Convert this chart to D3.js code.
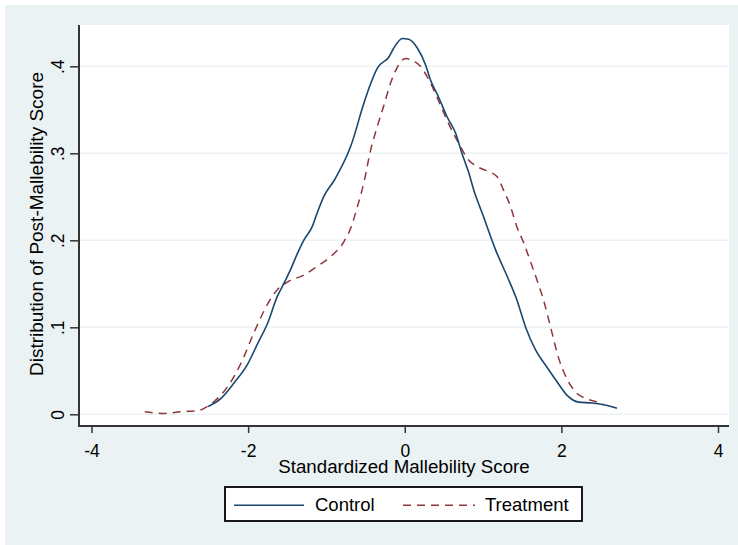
<!DOCTYPE html>
<html>
<head>
<meta charset="utf-8">
<script src="https://cdn.jsdelivr.net/npm/d3@7"></script>
<style>
  body { margin: 0; background: #fff; }
  text { font-family: "Liberation Sans", Arial, sans-serif; fill: #000; }
</style>
</head>
<body>
<div id="chart"></div>
<script>
// kernel density estimates (score, density)
let controlX = [-2.51, -2.35, -2.18, -2.01, -1.88, -1.75, -1.63, -1.54, -1.46, -1.37, -1.29, -1.18, -1.12,
    -1.03, -0.90, -0.69, -0.52, -0.44, -0.35, -0.20, -0.14, -0.03, 0.05, 0.16, 0.26, 0.33, 0.43, 0.54,
    0.65, 0.73, 0.82, 0.88, 0.99, 1.16, 1.33, 1.43, 1.54, 1.67, 1.81, 1.94, 2.07, 2.22, 2.39, 2.54, 2.71];
let controlY = [0.009, 0.018, 0.036, 0.057, 0.081, 0.105, 0.135, 0.151, 0.166, 0.185, 0.200, 0.216, 0.231,
    0.251, 0.269, 0.308, 0.358, 0.379, 0.398, 0.411, 0.421, 0.432, 0.431, 0.421, 0.403, 0.384, 0.365, 0.342,
    0.323, 0.300, 0.277, 0.258, 0.231, 0.189, 0.154, 0.132, 0.101, 0.074, 0.055, 0.038, 0.022, 0.014, 0.013, 0.011, 0.007];

let treatX = [-3.32, -3.07, -2.86, -2.65, -2.54, -2.43, -2.26, -2.09, -1.92, -1.75, -1.63, -1.50, -1.29, -1.12,
    -0.95, -0.78, -0.69, -0.61, -0.52, -0.44, -0.35, -0.27, -0.18, -0.10, 0.01, 0.09, 0.20, 0.31, 0.41, 0.52,
    0.62, 0.71, 0.80, 0.92, 1.07, 1.18, 1.26, 1.35, 1.43, 1.52, 1.60, 1.69, 1.77, 1.86, 1.96, 2.07, 2.20, 2.32, 2.49, 2.54];
let treatY = [0.003, 0.001, 0.003, 0.004, 0.008, 0.015, 0.032, 0.059, 0.095, 0.127, 0.143, 0.152, 0.160, 0.170,
    0.181, 0.198, 0.214, 0.237, 0.267, 0.302, 0.331, 0.354, 0.381, 0.398, 0.409, 0.407, 0.400, 0.384, 0.365, 0.342,
    0.323, 0.308, 0.294, 0.285, 0.279, 0.273, 0.258, 0.239, 0.216, 0.197, 0.177, 0.154, 0.132, 0.101, 0.066, 0.041, 0.024, 0.018, 0.013, 0.011];

let xTicks = [-4, -2, 0, 2, 4];
let yTicks = [0, 0.1, 0.2, 0.3, 0.4];
let seriesNames = ["Control", "Treatment"];

let W = 738, H = 545;
let plot = {left: 79, right: 729, top: 25, bottom: 426};

let svg = d3.select("#chart")
    .append("svg")
    .attr("width", W)
    .attr("height", H);

// outer background and plot region
svg.append("rect")
    .attr("x", 5).attr("y", 5)
    .attr("width", W - 5).attr("height", H - 5)
    .attr("fill", "#eaf2f3");

svg.append("rect")
    .attr("x", plot.left).attr("y", plot.top)
    .attr("width", plot.right - plot.left)
    .attr("height", plot.bottom - plot.top)
    .attr("fill", "#fff");

let xScale = d3.scaleLinear()
    .domain([-4, 4])
    .range([91.5, 718]);

let yScale = d3.scaleLinear()
    .domain([0, 0.4])
    .range([414.3, 66.3]);

// gridlines
svg.append("g")
    .selectAll("line")
    .data(yTicks)
    .join("line")
    .attr("x1", plot.left)
    .attr("x2", plot.right)
    .attr("y1", d => yScale(d))
    .attr("y2", d => yScale(d))
    .attr("stroke", "#eaf2f3")
    .attr("stroke-width", 1.5);

// curves
let line = d3.line()
    .x(d => xScale(d[0]))
    .y(d => yScale(d[1]))
    .curve(d3.curveMonotoneX);

let controlData = controlX.map((v, i) => [v, controlY[i]]);
let treatData = treatX.map((v, i) => [v, treatY[i]]);

svg.append("path")
    .datum(treatData)
    .attr("d", line)
    .attr("fill", "none")
    .attr("stroke", "#90353b")
    .attr("stroke-width", 1.5)
    .attr("stroke-dasharray", "8,6");

svg.append("path")
    .datum(controlData)
    .attr("d", line)
    .attr("fill", "none")
    .attr("stroke", "#1a476f")
    .attr("stroke-width", 1.6);

// axes
let yFmt = d => d === 0 ? "0" : d3.format(".1f")(d).replace(/^0/, "");

let yaxis = svg.append("g")
    .attr("transform", "translate(" + plot.left + ",0)")
    .call(d3.axisLeft(yScale).tickValues(yTicks).tickFormat(yFmt).tickSize(9));
yaxis.select(".domain").remove();
yaxis.selectAll(".tick line").attr("stroke", "#333").attr("stroke-width", 1.5);
yaxis.selectAll(".tick text")
    .attr("transform", "rotate(-90)")
    .attr("x", 0)
    .attr("y", -15.5)
    .attr("dy", 0)
    .attr("text-anchor", "middle")
    .style("font-size", "17.5px")
    .style("font-family", "'Liberation Sans', Arial, sans-serif")
    .attr("fill", "#000");

let xaxis = svg.append("g")
    .attr("transform", "translate(0," + plot.bottom + ")")
    .call(d3.axisBottom(xScale).tickValues(xTicks).tickFormat(d => String(d)).tickSize(7));
xaxis.select(".domain").remove();
xaxis.selectAll(".tick line").attr("stroke", "#333").attr("stroke-width", 1.5);
xaxis.selectAll(".tick text")
    .attr("y", 30.5)
    .attr("dy", 0)
    .style("font-size", "17.5px")
    .style("font-family", "'Liberation Sans', Arial, sans-serif")
    .attr("fill", "#000");

svg.append("line")
    .attr("x1", plot.left).attr("x2", plot.left)
    .attr("y1", plot.top).attr("y2", plot.bottom + 1)
    .attr("stroke", "#333").attr("stroke-width", 2);

svg.append("line")
    .attr("x1", plot.left - 1).attr("x2", plot.right)
    .attr("y1", plot.bottom).attr("y2", plot.bottom)
    .attr("stroke", "#333").attr("stroke-width", 2);

// axis titles
svg.append("text")
    .text("Standardized Mallebility Score")
    .attr("x", 404)
    .attr("y", 472.5)
    .attr("text-anchor", "middle")
    .style("font-size", "18.7px");

svg.append("text")
    .text("Distribution of Post-Mallebility Score")
    .attr("transform", "translate(43.3,224)rotate(-90)")
    .attr("text-anchor", "middle")
    .style("font-size", "19px");

// legend
let legend = svg.append("g");
legend.append("rect")
    .attr("x", 225).attr("y", 487)
    .attr("width", 357).attr("height", 34)
    .attr("fill", "#fff")
    .attr("stroke", "#000")
    .attr("stroke-width", 1.8);

legend.append("line")
    .attr("x1", 234).attr("x2", 304)
    .attr("y1", 505.3).attr("y2", 505.3)
    .attr("stroke", "#1a476f").attr("stroke-width", 1.6);

legend.append("text")
    .text(seriesNames[0])
    .attr("x", 315).attr("y", 511)
    .style("font-size", "18.5px");

legend.append("line")
    .attr("x1", 403).attr("x2", 475)
    .attr("y1", 505.3).attr("y2", 505.3)
    .attr("stroke", "#90353b").attr("stroke-width", 1.5)
    .attr("stroke-dasharray", "8,6");

legend.append("text")
    .text(seriesNames[1])
    .attr("x", 485).attr("y", 511)
    .style("font-size", "18.5px");
</script>
</body>
</html>
